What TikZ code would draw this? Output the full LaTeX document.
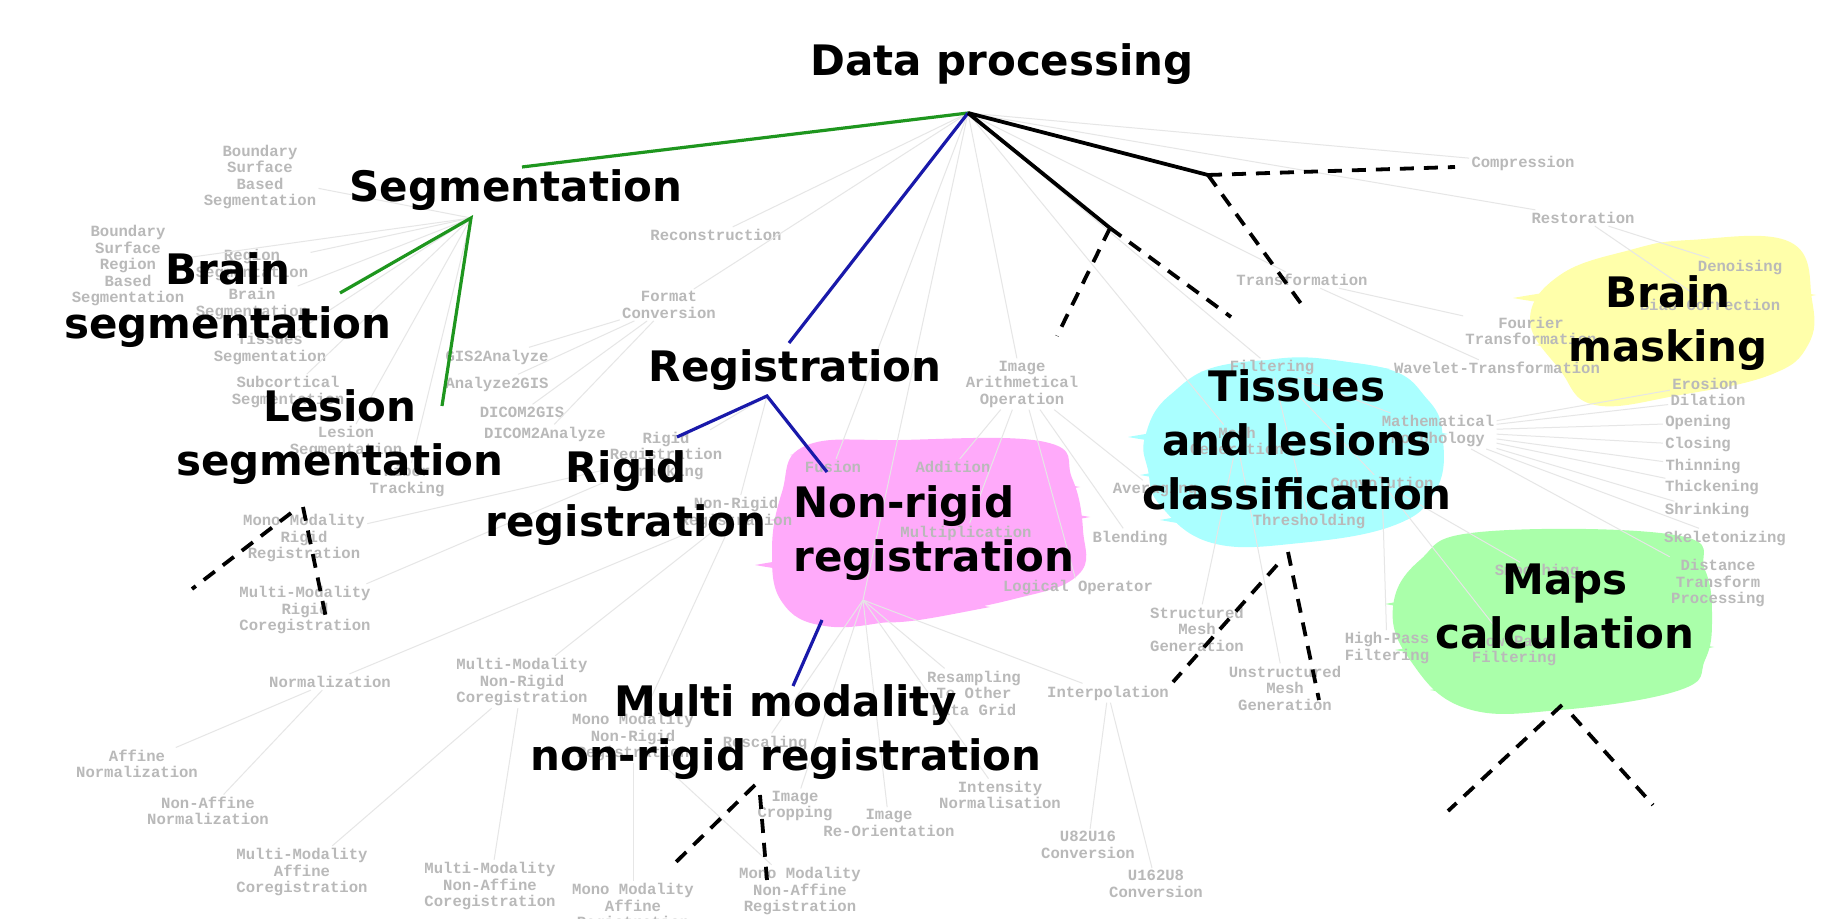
\documentclass[tikz,border=0pt]{standalone}
\usepackage{fontspec}
\setmainfont{DejaVu Sans}
\newfontfamily\graymono{Liberation Mono}
\definecolor{lbl}{RGB}{185,185,185}
\definecolor{gline}{RGB}{230,230,230}
\definecolor{brgreen}{RGB}{30,150,30}
\definecolor{brblue}{RGB}{25,25,170}
\definecolor{pinkb}{RGB}{255,170,250}
\definecolor{cyanb}{RGB}{170,255,255}
\definecolor{yellowb}{RGB}{255,255,170}
\definecolor{greenb}{RGB}{170,255,170}
\begin{document}
\begin{tikzpicture}[x=0.5pt,y=-0.5pt,
 big/.style={font=\fontsize{21}{27}\selectfont\bfseries, align=center, inner sep=0pt},
 sm/.style={font=\graymono\bfseries\fontsize{7.8}{8.25}\selectfont, text=lbl, align=center, inner sep=1pt},
 gl/.style={draw=gline, line width=0.5pt},
 grn/.style={draw=brgreen, line width=1.6pt},
 blu/.style={draw=brblue, line width=1.6pt},
 blk/.style={draw=black, line width=1.9pt},
 dsh/.style={draw=black, line width=1.9pt, dash pattern=on 7pt off 5pt}]
\useasboundingbox (0,0) rectangle (1826,919);
\fill[white] (0,0) rectangle (1826,919);
% brush blobs: smooth body plus tapered streaks
\fill[pinkb] plot[smooth cycle, tension=0.7] coordinates {(805,446) (900,440) (1045,442) (1072,478) (1083,530) (1078,575) (1010,600) (900,620) (825,626) (782,602) (772,550) (782,492)};
\foreach \y/\a/\b in {455/790/1055,490/800/1080,520/770/1090,565/755/1085,610/795/990}
  \fill[pinkb] (\a,\y) .. controls (\a+100,\y-18) and (\b-100,\y-20) .. (\b,\y-3) .. controls (\b-100,\y+16) and (\a+100,\y+18) .. (\a,\y);
\fill[cyanb] plot[smooth cycle, tension=0.7] coordinates {(1235,363) (1375,366) (1428,400) (1443,440) (1436,490) (1395,525) (1300,543) (1212,543) (1160,505) (1148,470) (1145,437) (1170,395)};
\foreach \y/\a/\b in {372/1200/1390,437/1128/1448,475/1140/1440,520/1160/1410}
  \fill[cyanb] (\a,\y) .. controls (\a+100,\y-18) and (\b-100,\y-20) .. (\b,\y-3) .. controls (\b-100,\y+16) and (\a+100,\y+18) .. (\a,\y);
\fill[yellowb] plot[smooth cycle, tension=0.7] coordinates {(1690,240) (1790,242) (1812,300) (1808,345) (1770,375) (1680,395) (1595,405) (1560,370) (1530,320) (1560,275) (1630,250)};
\foreach \y/\a/\b in {262/1600/1805,298/1513/1816,345/1535/1810,385/1575/1735}
  \fill[yellowb] (\a,\y) .. controls (\a+100,\y-18) and (\b-100,\y-20) .. (\b,\y-3) .. controls (\b-100,\y+16) and (\a+100,\y+18) .. (\a,\y);
\fill[greenb] plot[smooth cycle, tension=0.7] coordinates {(1480,532) (1675,535) (1705,570) (1712,620) (1705,660) (1680,690) (1560,710) (1465,708) (1410,660) (1393,607) (1420,560)};
\foreach \y/\a/\b in {545/1440/1690,604/1385/1716,650/1395/1714,690/1430/1650}
  \fill[greenb] (\a,\y) .. controls (\a+100,\y-18) and (\b-100,\y-20) .. (\b,\y-3) .. controls (\b-100,\y+16) and (\a+100,\y+18) .. (\a,\y);
% junction coordinates
\coordinate (R) at (968,113);
\coordinate (S) at (471,218);
\coordinate (RG) at (767,396);
\coordinate (P) at (863,600);
\coordinate (A) at (1208,175);
\coordinate (B) at (1110,228);
% gray labels
\node[sm] (bssb) at (260,177) {Boundary\\Surface\\Based\\Segmentation};
\node[sm] (bsrbs) at (128,266) {Boundary\\Surface\\Region\\Based\\Segmentation};
\node[sm] (regseg) at (252,265) {Region\\Segmentation};
\node[sm] (brseg) at (252,304) {Brain\\Segmentation};
\node[sm] (tisseg) at (270,349) {Tissues\\Segmentation};
\node[sm] (subseg) at (288,392) {Subcortical\\Segmentation};
\node[sm] (lesseg) at (346,442) {Lesion\\Segmentation};
\node[sm] (fiber) at (407,481) {Fiber\\Tracking};
\node[sm] (monorig) at (304,538) {Mono Modality\\Rigid\\Registration};
\node[sm] (multirig) at (305,610) {Multi-Modality\\Rigid\\Coregistration};
\node[sm] (norm) at (330,682) {Normalization};
\node[sm] (affnorm) at (137,764) {Affine\\Normalization};
\node[sm] (naffnorm) at (208,811) {Non-Affine\\Normalization};
\node[sm] (multiaff) at (302,872) {Multi-Modality\\Affine\\Coregistration};
\node[sm] (recon) at (716,235) {Reconstruction};
\node[sm] (fconv) at (669,305) {Format\\Conversion};
\node[sm] (gis2an) at (497,357) {GIS2Analyze};
\node[sm] (an2gis) at (497,384) {Analyze2GIS};
\node[sm] (d2gis) at (522,412) {DICOM2GIS};
\node[sm] (d2an) at (545,434) {DICOM2Analyze};
\node[sm] (rigreg) at (666,456) {Rigid\\Registration\\Tracking};
\node[sm] (nrigreg) at (736,513) {Non-Rigid\\Registration};
\node[sm] (fusion) at (833,467) {Fusion};
\node[sm] (mmnr) at (522,682) {Multi-Modality\\Non-Rigid\\Coregistration};
\node[sm] (monr) at (633,737) {Mono Modality\\Non-Rigid\\Registration};
\node[sm] (mmna) at (490,886) {Multi-Modality\\Non-Affine\\Coregistration};
\node[sm] (moaff) at (633,907) {Mono Modality\\Affine\\Registration};
\node[sm] (mona) at (800,891) {Mono Modality\\Non-Affine\\Registration};
\node[sm] (crop) at (795,806) {Image\\Cropping};
\node[sm] (reor) at (889,823) {Image\\Re-Orientation};
\node[sm] (rescale) at (765,743) {Rescaling};
\node[sm] (resamp) at (974,693) {Resampling\\To Other\\Data Grid};
\node[sm] (interp) at (1108,693) {Interpolation};
\node[sm] (intnorm) at (1000,795) {Intensity\\Normalisation};
\node[sm] (u8) at (1088,845) {U82U16\\Conversion};
\node[sm] (u16) at (1156,884) {U162U8\\Conversion};
\node[sm] (arith) at (1022,384) {Image\\Arithmetical\\Operation};
\node[sm] (add) at (953,467) {Addition};
\node[sm] (mult) at (966,533) {Multiplication};
\node[sm] (blend) at (1130,538) {Blending};
\node[sm] (logic) at (1078,588) {Logical Operator};
\node[sm] (aver) at (1155,490) {Averaging};
\node[sm] (filt) at (1272,368) {Filtering};
\node[sm] (mesh) at (1237,441) {Mesh\\Generation};
\node[sm] (thresh) at (1309,522) {Thresholding};
\node[sm] (conv) at (1382,483) {Convolution};
\node[sm] (smesh) at (1197,629) {Structured\\Mesh\\Generation};
\node[sm] (umesh) at (1285,688) {Unstructured\\Mesh\\Generation};
\node[sm] (hpass) at (1387,648) {High-Pass\\Filtering};
\node[sm] (lpass) at (1514,651) {Low-Pass\\Filtering};
\node[sm] (smooth) at (1537,572) {Smoothing};
\node[sm] (transf) at (1302,280) {Transformation};
\node[sm] (fourier) at (1531,331) {Fourier\\Transformation};
\node[sm] (wavelet) at (1497,368) {Wavelet-Transformation};
\node[sm] (mmorph) at (1438,431) {Mathematical\\Morphology};
\node[sm] (eros) at (1705,384) {Erosion};
\node[sm] (dila) at (1708,400) {Dilation};
\node[sm] (open) at (1698,423) {Opening};
\node[sm] (clos) at (1698,445) {Closing};
\node[sm] (thin) at (1703,467) {Thinning};
\node[sm] (thick) at (1712,488) {Thickening};
\node[sm] (shrink) at (1707,511) {Shrinking};
\node[sm] (skel) at (1725,538) {Skeletonizing};
\node[sm] (dist) at (1718,583) {Distance\\Transform\\Processing};
\node[sm] (compr) at (1523,163) {Compression};
\node[sm] (resto) at (1583,218) {Restoration};
\node[sm] (denoise) at (1740,268) {Denoising};
\node[sm] (biascor) at (1710,305) {Bias Correction};
% gray connectors
\foreach \n in {recon,fconv,fusion,arith,mesh,filt,transf,compr,resto} \draw[gl] (R) -- (\n);
\draw[gl] (R) -- (P);
\foreach \n in {bssb,bsrbs,regseg,brseg,tisseg,subseg,lesseg,fiber} \draw[gl] (S) -- (\n);
\foreach \n in {gis2an,an2gis,d2gis,d2an} \draw[gl] (fconv) -- (\n);
\foreach \n in {rigreg,nrigreg} \draw[gl] (RG) -- (\n);
\foreach \n in {monorig,multirig} \draw[gl] (rigreg) -- (\n);
\foreach \n in {norm,mmnr,monr} \draw[gl] (nrigreg) -- (\n);
\foreach \n in {affnorm,naffnorm} \draw[gl] (norm) -- (\n);
\foreach \n in {multiaff,mmna} \draw[gl] (mmnr) -- (\n);
\foreach \n in {moaff,mona} \draw[gl] (monr) -- (\n);
\foreach \n in {rescale,crop,reor,intnorm,resamp,interp} \draw[gl] (P) -- (\n);
\foreach \n in {u8,u16} \draw[gl] (interp) -- (\n);
\foreach \n in {add,mult,aver,blend,logic} \draw[gl] (arith) -- (\n);
\foreach \n in {smesh,umesh} \draw[gl] (mesh) -- (\n);
\foreach \n in {mmorph,conv,thresh} \draw[gl] (filt) -- (\n);
\foreach \n in {eros,dila,open,clos,thin,thick,shrink,skel,dist} \draw[gl] (mmorph) -- (\n);
\foreach \n in {smooth,hpass,lpass} \draw[gl] (conv) -- (\n);
\foreach \n in {fourier,wavelet} \draw[gl] (transf) -- (\n);
\foreach \n in {denoise,biascor} \draw[gl] (resto) -- (\n);
% coloured and black connectors
\coordinate (segTop) at (522,167);
\coordinate (bsegEnd) at (340,293);
\coordinate (lsegEnd) at (442,406);
\coordinate (regTop) at (789,343);
\coordinate (rregEnd) at (677,437);
\coordinate (nrregEnd) at (827,472);
\coordinate (nrFrom) at (822,620);
\coordinate (mmEnd) at (793,686);
\draw[grn] (R) -- (segTop);
\draw[grn] (bsegEnd) -- (S) -- (lsegEnd);
\draw[blu] (R) -- (regTop);
\draw[blu] (rregEnd) -- (RG) -- (nrregEnd);
\draw[blu] (nrFrom) -- (mmEnd);
\draw[blk] (R) -- (A);
\draw[blk] (R) -- (B);
\coordinate (A1) at (1455,167);
\coordinate (A2) at (1302,305);
\coordinate (B1) at (1057,336);
\coordinate (B2) at (1231,317);
\draw[dsh] (A) -- (A1);
\draw[dsh] (A) -- (A2);
\draw[dsh] (B) -- (B1);
\draw[dsh] (B) -- (B2);
\coordinate (L0) at (291,513); \coordinate (L1) at (192,589);
\coordinate (L2) at (303,507); \coordinate (L3) at (326,618);
\draw[dsh] (L0) -- (L1);
\draw[dsh] (L2) -- (L3);
\coordinate (M0) at (755,785); \coordinate (M1) at (675,863);
\coordinate (M2) at (760,795); \coordinate (M3) at (767,880);
\draw[dsh] (M0) -- (M1);
\draw[dsh] (M2) -- (M3);
\coordinate (T0) at (1288,552); \coordinate (T1) at (1319,700);
\coordinate (T2) at (1277,565); \coordinate (T3) at (1173,682);
\draw[dsh] (T0) -- (T1);
\draw[dsh] (T2) -- (T3);
\coordinate (Q0) at (1562,705); \coordinate (Q1) at (1448,811);
\coordinate (Q2) at (1572,715); \coordinate (Q3) at (1653,805);
\draw[dsh] (Q0) -- (Q1);
\draw[dsh] (Q2) -- (Q3);
% big labels
\node[big] (dp) at (1002,64) {Data processing};
\node[big] (seg) at (516,190) {Segmentation};
\node[big] (bseg) at (228,300) {Brain\\segmentation};
\node[big] (lseg) at (340,437) {Lesion\\segmentation};
\node[big] (reg) at (795,370) {Registration};
\node[big] (rreg) at (626,498) {Rigid\\registration};
\node[big, align=left, anchor=west] (nrreg) at (793,533) {Non-rigid\\registration};
\node[big] (mm) at (786,732) {Multi modality\\non-rigid registration};
\node[big] (tis) at (1297,440) {Tissues\\and lesions\\classification};
\node[big] (bmask) at (1668,323) {Brain\\masking};
\node[big] (maps) at (1565,606) {Maps\\calculation};
\end{tikzpicture}
\end{document}
